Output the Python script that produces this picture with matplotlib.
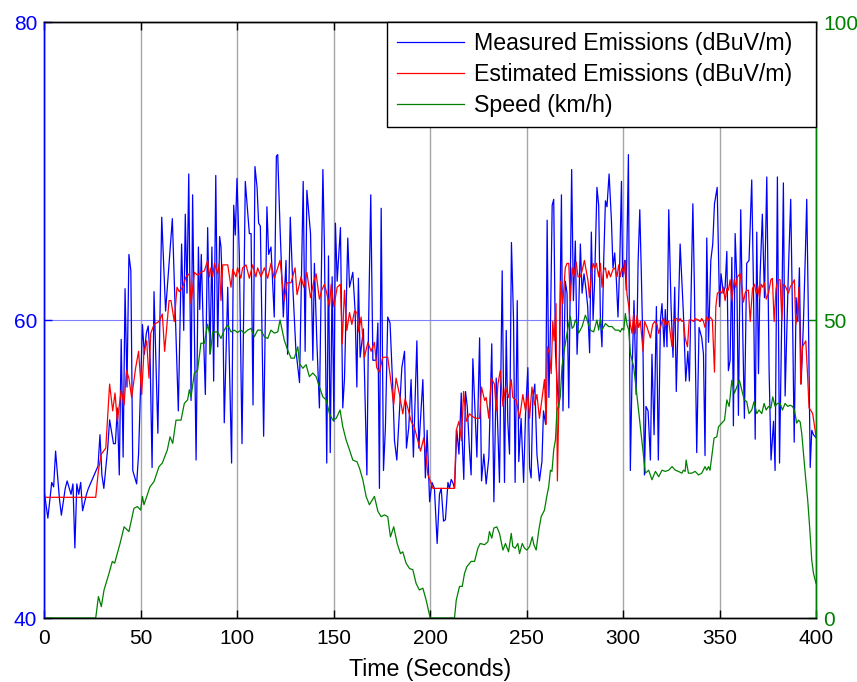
import matplotlib
matplotlib.use("Agg")
import matplotlib.pyplot as plt

plt.rcParams['font.family'] = ['Liberation Sans', 'DejaVu Sans']

# (time in s, measured emission in dBuV/m)
measured_pts = [
    (0, 48.6), (2, 46.7), (4, 49.1), (5, 48.8), (6, 51.2), (8, 48.0), (9, 46.9), (11, 48.7), (12, 49.2),
    (14, 48.3), (15, 49.0), (16, 44.7), (17, 49.0), (18, 48.3), (19, 49.1), (20, 47.2), (22, 48.3), (23, 48.7),
    (26, 49.6), (27, 49.9), (28, 50.2), (29, 52.3), (30, 49.6), (31, 48.7), (33, 51.4), (34, 53.3), (36, 51.7),
    (37, 51.7), (38, 54.1), (39, 49.6), (40, 58.7), (41, 50.8), (42, 62.1), (43, 55.5), (44, 64.4), (45, 63.3),
    (46, 49.9), (48, 49.0), (49, 51.0), (51, 59.7), (52, 57.7), (53, 59.1), (54, 59.6), (55, 57.3), (56, 50.1),
    (57, 61.9), (59, 52.4), (61, 66.9), (63, 60.6), (66.5, 66.8), (69.6, 53.9), (71.3, 65.1), (72.4, 59.3),
    (73.2, 67.1), (74.1, 61.8), (75.0, 69.8), (76.2, 54.6), (77.0, 68.4), (78.8, 50.6), (80.0, 64.9), (80.7, 60.7),
    (81.5, 64.4), (82.4, 60.0), (83.6, 55.0), (84.8, 66.2), (86.0, 57.7), (87.0, 64.9), (87.9, 55.9), (89.0, 69.7),
    (90.0, 58.2), (91.0, 65.6), (91.7, 64.9), (92.6, 61.3), (93.4, 53.1), (95.2, 62.2), (97.2, 50.4), (98.3, 67.7),
    (99.1, 65.7), (100.0, 69.5), (101.2, 64.4), (102.6, 51.7), (104.3, 69.3), (106.4, 65.8), (107.3, 65.8),
    (108.3, 54.3), (109.3, 70.3), (110.4, 68.9), (111.2, 66.5), (112.1, 66.3), (113.8, 52.2), (115.5, 67.6),
    (116.4, 64.4), (117.6, 64.9), (119.3, 60.2), (120.4, 71.0), (121.1, 71.1), (122.3, 66.2), (124.0, 60.2),
    (125.4, 64.0), (126.2, 57.7), (127.6, 66.9), (129.0, 62.0), (130.5, 58.0), (132.4, 55.8), (134.3, 69.3),
    (135.3, 57.9), (136.2, 68.7), (138.1, 65.8), (139.3, 57.3), (140.1, 63.8), (141.3, 58.8), (142.7, 54.1),
    (144.5, 70.1), (145.3, 64.9), (146.5, 50.4), (147.4, 64.3), (148.3, 51.1), (149.3, 62.9), (150.2, 53.2),
    (151.0, 66.5), (151.9, 62.6), (153.6, 66.2), (154.8, 54.1), (155.7, 56.1), (157.4, 65.5), (158.3, 62.2),
    (160.0, 63.2), (161.2, 60.6), (162.1, 55.5), (162.9, 62.8), (163.8, 57.5), (165.5, 59.4), (167.3, 49.6),
    (168.1, 59.1), (169.3, 68.4), (170.4, 57.3), (172.1, 57.3), (173.0, 59.8), (173.8, 48.7), (174.7, 67.5),
    (175.9, 49.9), (176.9, 52.8), (178.1, 60.2), (179.3, 59.8), (180.7, 55.5), (181.6, 51.9), (182.8, 50.6),
    (184.2, 53.9), (185.4, 56.8), (186.8, 57.9), (187.8, 51.4), (189.0, 52.8), (190.2, 56.0), (191.4, 50.8),
    (193.2, 58.6), (194.2, 51.4), (196.3, 56.0), (197.6, 49.4), (198.5, 52.6), (199.8, 47.8), (201.0, 49.1),
    (202.3, 48.7), (203.7, 45.0), (204.9, 48.3), (205.8, 48.7), (207.0, 46.5), (208.0, 46.6), (209.3, 49.1),
    (210.1, 48.7), (211.0, 49.3), (211.8, 49.1), (212.7, 48.7), (213.9, 52.6), (215.0, 51.0), (216.2, 55.1),
    (216.7, 51.9), (217.5, 49.3), (218.4, 55.2), (219.3, 54.2), (220.5, 51.2), (221.3, 49.6), (222.2, 57.4),
    (223.1, 54.6), (224.3, 50.8), (225.7, 58.8), (226.7, 49.2), (227.9, 51.0), (229.1, 49.0), (230.5, 50.8),
    (232.0, 58.4), (233.1, 47.8), (234.3, 56.1), (236.0, 49.1), (237.4, 63.3), (238.6, 49.1), (239.5, 59.3),
    (240.3, 53.2), (241.2, 51.0), (242.2, 65.2), (243.3, 59.9), (244.1, 49.1), (245.2, 61.3), (246.0, 50.5),
    (247.2, 53.4), (248.5, 49.1), (249.5, 53.7), (250.7, 56.8), (251.6, 50.1), (252.4, 49.4), (253.3, 54.8),
    (254.3, 55.7), (255.4, 51.0), (256.7, 49.2), (258.0, 50.5), (258.8, 53.9), (259.9, 53.0), (260.7, 66.7),
    (261.6, 54.8), (262.4, 59.5), (263.3, 67.7), (264.1, 68.1), (265.0, 57.9), (265.8, 55.9), (266.7, 54.1),
    (268.1, 68.4), (268.9, 53.9), (270.1, 62.6), (271.0, 61.8), (271.9, 54.1), (273.4, 70.1), (274.3, 61.3),
    (275.3, 65.3), (276.2, 57.7), (277.0, 60.4), (277.9, 65.1), (278.8, 61.8), (279.8, 63.1), (280.8, 62.1),
    (281.7, 60.9), (282.7, 57.8), (283.6, 65.9), (284.5, 60.0), (285.3, 62.6), (286.5, 68.9), (287.4, 67.7),
    (288.3, 60.0), (289.1, 58.2), (290.0, 64.0), (290.9, 68.0), (291.7, 67.6), (292.8, 69.8), (294.0, 66.7),
    (294.8, 63.5), (295.7, 64.5), (296.6, 62.6), (297.4, 60.2), (298.3, 63.8), (299.2, 69.3), (299.8, 62.9),
    (300.9, 64.0), (301.7, 62.0), (302.8, 71.1), (303.8, 49.9), (304.7, 56.4), (305.7, 61.3), (306.8, 55.0),
    (307.8, 63.8), (308.7, 67.4), (309.5, 63.1), (310.4, 57.7), (311.1, 49.6), (311.9, 54.2), (313.0, 53.9),
    (314.2, 50.6), (315.0, 57.7), (316.1, 52.3), (317.3, 60.9), (318.3, 50.6), (319.4, 60.0), (320.2, 61.1),
    (321.3, 58.2), (321.9, 60.7), (322.8, 58.2), (323.7, 67.4), (324.9, 60.9), (325.9, 57.5), (326.8, 62.2),
    (327.6, 55.2), (328.9, 61.8), (329.6, 65.1), (331.3, 60.4), (332.5, 55.9), (333.6, 57.9), (334.4, 55.9),
    (336.2, 67.8), (337.0, 62.2), (338.2, 51.1), (339.4, 59.5), (340.8, 58.8), (341.7, 57.7), (342.5, 50.9),
    (343.4, 65.5), (344.3, 58.5), (345.5, 64.0), (346.5, 65.1), (347.4, 67.8), (348.8, 68.9), (350.0, 60.9),
    (350.8, 63.1), (352.0, 61.8), (352.9, 62.2), (353.8, 64.6), (354.6, 56.6), (355.5, 57.3), (356.4, 64.2),
    (357.2, 52.9), (358.1, 65.8), (359.0, 62.6), (359.8, 53.6), (361.0, 67.4), (362.1, 58.8), (362.9, 53.4),
    (364.1, 63.8), (365.3, 64.0), (366.7, 69.4), (367.6, 62.2), (368.5, 52.0), (369.3, 65.9), (370.2, 56.4),
    (371.0, 62.9), (372.2, 67.1), (373.3, 61.5), (374.5, 69.6), (375.7, 56.6), (376.7, 50.6), (378.0, 53.2),
    (378.8, 49.9), (380.0, 69.6), (381.1, 50.4), (382.3, 60.5), (383.1, 69.2), (384.0, 54.9), (385.7, 63.3),
    (386.9, 68.1), (388.0, 58.8), (388.7, 51.8), (389.7, 61.5), (390.6, 59.9), (391.4, 63.5), (392.3, 55.7),
    (393.5, 59.9), (394.4, 64.0), (395.2, 68.1), (396.1, 59.9), (397.0, 50.1), (397.8, 52.6), (398.7, 52.3),
    (400.0, 52.1),
]

# (time in s, estimated emission in dBuV/m)
estimated_pts = [
    (0, 48.1), (26.8, 48.1), (28.2, 49.9), (29.7, 51.0), (32, 51.4), (34, 55.7), (35.6, 53.9), (36.8, 55.1),
    (38, 53.2), (40, 55.3), (41.5, 54.3), (42.7, 56.6), (44, 56.1), (45.4, 54.8), (47.5, 56.8), (49, 57.9),
    (50.6, 55.0), (51.8, 57.9), (53.2, 58.6), (54.4, 56.1), (55.3, 59.1), (57, 59.7), (59.6, 59.9), (61.3, 60.4),
    (62.5, 57.9), (64.8, 61.3), (65.8, 61.3), (67.5, 59.9), (68.9, 62.2), (70.1, 61.9), (71.8, 62.2), (73.6, 62.9),
    (75.3, 63.1), (76.2, 61.1), (77.9, 63.2), (79.6, 63.0), (81.3, 63.2), (83.1, 63.3), (84.8, 64.0), (85.7, 62.9),
    (86.5, 63.5), (87.4, 62.9), (88.3, 63.8), (90, 63.1), (90.8, 63.8), (91.7, 61.3), (92.6, 63.7), (95.2, 63.7),
    (96.9, 62.2), (97.8, 63.4), (99.5, 62.9), (100.3, 63.5), (102, 62.8), (102.9, 63.5), (104.7, 63.7),
    (106.4, 62.8), (108.1, 63.7), (109.8, 62.9), (110.7, 63.5), (112.4, 62.9), (114.2, 63.5), (115.9, 62.8),
    (117.6, 63.8), (119.3, 62.8), (121.1, 63.5), (122.3, 64.0), (124.5, 61.3), (125.9, 62.5), (128, 62.5),
    (130.1, 63.5), (131.1, 61.7), (133.2, 62.9), (134.6, 62.2), (136.2, 63.2), (138.1, 61.5), (139.8, 62.6),
    (141, 63.1), (142.7, 61.4), (143.9, 62.0), (145.3, 62.4), (146.5, 61.8), (147.9, 60.9), (148.8, 62.4),
    (150.2, 60.9), (151.9, 62.2), (153.6, 62.4), (154.5, 58.4), (155.7, 62.0), (156.9, 59.3), (158.3, 60.5),
    (159.5, 59.7), (160.9, 60.6), (162.2, 60.5), (163.1, 59.2), (164.3, 60.2), (166, 57.5), (167.8, 58.5),
    (169.5, 57.9), (171.2, 58.5), (172.4, 56.8), (173.8, 56.5), (175.5, 57.5), (178.1, 57.5), (179.9, 55.7),
    (181.2, 54.3), (182.4, 56.1), (184.2, 55.0), (185.9, 53.7), (187.1, 54.7), (188.5, 54.1), (190.2, 53.2),
    (191.9, 52.8), (193.7, 51.9), (195.1, 51.2), (196.8, 52.1), (198, 50.8), (198.9, 49.6), (200.1, 49.2),
    (201.5, 48.7), (212.7, 48.7), (213.6, 52.6), (215, 53.2), (216.3, 51.9), (217.4, 55.2), (218.8, 53.2),
    (220.5, 53.7), (222.2, 53.5), (223.9, 53.4), (225.7, 53.4), (226.7, 55.5), (228.3, 54.6), (229.1, 54.8),
    (230.5, 53.4), (231.7, 56.1), (233.4, 55.7), (234.3, 53.9), (235.2, 55.7), (236.4, 56.6), (237.8, 54.2),
    (239.1, 55.5), (240.7, 54.8), (242.1, 56.0), (242.9, 54.8), (244.7, 54.6), (246.4, 53.4), (248.1, 55.0),
    (249.5, 53.9), (250.7, 55.1), (251.6, 53.4), (252.8, 55.5), (254.2, 54.3), (255.4, 55.0), (256.7, 53.4),
    (258.1, 54.8), (259.3, 56.0), (260.2, 53.0), (260.9, 58.2), (261.9, 57.7), (262.8, 56.4), (263.6, 59.9),
    (264.3, 58.6), (265.3, 61.1), (266.0, 49.2), (266.7, 54.1), (267.7, 62.6), (268.8, 61.1), (270.1, 63.5),
    (271.0, 63.8), (271.9, 63.8), (272.7, 61.3), (273.6, 63.5), (274.5, 62.9), (275.7, 63.9), (276.7, 62.9),
    (277.9, 62.9), (278.8, 63.3), (280.0, 64.0), (280.8, 63.4), (281.9, 62.6), (282.6, 61.5), (283.6, 63.1),
    (284.5, 63.8), (285.3, 63.5), (286.2, 63.8), (287.4, 62.9), (288.3, 63.8), (289.1, 62.2), (290.0, 63.4),
    (290.9, 63.5), (291.7, 62.8), (292.6, 63.3), (293.5, 62.9), (294.3, 63.2), (295.2, 63.5), (296.0, 63.4),
    (296.9, 62.9), (297.8, 63.7), (298.6, 62.9), (299.5, 63.5), (300.4, 63.1), (301.2, 64.0), (302.1, 61.7),
    (303.0, 60.9), (303.8, 59.7), (304.7, 59.1), (305.5, 60.4), (306.4, 59.1), (307.3, 60.3), (308.1, 59.5),
    (309.0, 59.9), (310.4, 57.9), (311.2, 59.9), (312.5, 59.5), (314.2, 58.8), (315.4, 59.7), (316.4, 59.9),
    (317.6, 59.7), (318.5, 59.1), (319.4, 59.5), (320.2, 59.9), (321.1, 60.1), (321.9, 59.6), (322.8, 59.9),
    (323.7, 59.9), (324.5, 59.1), (325.4, 58.2), (326.3, 59.9), (327.1, 60.1), (327.9, 60.1), (328.7, 59.9),
    (329.6, 60.1), (330.5, 59.9), (331.3, 60.0), (332.2, 58.8), (333.4, 58.2), (334.3, 60.0), (335.6, 60.0),
    (336.5, 59.9), (337.4, 60.1), (339.1, 60.0), (340.0, 59.9), (340.8, 60.1), (341.7, 59.9), (342.5, 59.5),
    (343.4, 60.2), (344.3, 60.0), (345.1, 60.2), (346.3, 60.0), (347.4, 56.5), (348.1, 60.9), (348.9, 61.8),
    (350.3, 61.9), (351.2, 61.8), (352.0, 62.2), (352.9, 61.3), (353.8, 62.1), (354.6, 62.0), (355.5, 62.7),
    (356.4, 61.3), (357.6, 62.7), (358.4, 62.2), (359.3, 62.9), (360.7, 63.1), (361.5, 62.2), (362.4, 61.2),
    (363.3, 61.8), (364.1, 62.0), (365.0, 62.0), (365.9, 59.9), (367.1, 62.1), (368.1, 62.4), (369.0, 61.8),
    (369.8, 62.3), (370.7, 61.5), (371.6, 62.4), (372.4, 62.2), (373.3, 62.5), (374.2, 61.4), (375.4, 61.8),
    (376.6, 62.7), (377.4, 62.8), (378.3, 59.9), (379.3, 62.1), (380.2, 62.7), (381.4, 62.7), (382.3, 60.0),
    (383.1, 62.4), (384.0, 62.3), (385.7, 61.8), (386.6, 62.2), (388.0, 62.5), (388.8, 62.7), (389.5, 59.7),
    (390.4, 60.4), (391.2, 62.2), (392.1, 55.7), (393.0, 58.2), (393.8, 58.4), (394.7, 58.6), (395.6, 56.4),
    (396.4, 54.1), (397.5, 53.9), (398.3, 53.7), (400.0, 52.2),
]

# (time in s, vehicle speed in km/h)
speed_pts = [
    (0, 0.0), (26.8, 0.0), (28.2, 3.6), (29.7, 1.9), (31.1, 4.7), (33.7, 7.5), (35.4, 9.5), (36.6, 9.2),
    (39.4, 12.5), (41.5, 15.3), (44, 14.5), (46.6, 18.4), (48.4, 18.7), (50.1, 18.1), (51, 20.4), (51.8, 19.0),
    (54.9, 22.0), (57, 22.9), (59.6, 25.4), (61.3, 26.0), (63.9, 28.2), (65.3, 30.4), (66.7, 29.3), (68.4, 33.2),
    (71, 33.2), (72.7, 36.0), (74.4, 36.6), (75.3, 38.3), (76.2, 37.1), (77.9, 41.1), (79.6, 41.6), (81.3, 46.1),
    (83.1, 46.1), (84.8, 49.3), (85.7, 47.8), (86.2, 44.4), (87.4, 48.0), (90, 48.0), (91.7, 46.9), (93.4, 48.3),
    (95.2, 49.2), (96.9, 48.0), (98.6, 48.3), (100.3, 47.9), (102, 48.3), (103.8, 47.8), (105.5, 48.3),
    (107.3, 48.6), (109, 47.2), (110.7, 48.3), (112.4, 48.3), (114.2, 47.2), (115.9, 46.9), (117.6, 48.3),
    (119.3, 47.8), (121.1, 48.0), (122.3, 50.0), (124.5, 46.6), (126.2, 45.0), (128, 43.6), (129.7, 43.6),
    (131.5, 45.5), (132.4, 42.7), (134.1, 41.9), (135.8, 42.5), (137.5, 40.5), (139.3, 41.1), (141, 40.5),
    (142.7, 38.8), (144.5, 37.1), (146.2, 36.6), (147.9, 34.3), (149.6, 33.2), (151.4, 33.5), (153.4, 34.9),
    (154.8, 32.1), (156.5, 29.9), (158.3, 28.2), (160, 26.5), (162.2, 26.2), (163.5, 25.1), (165.2, 23.2),
    (166.9, 20.4), (168.6, 19.0), (171.2, 20.4), (173, 17.9), (174.7, 17.0), (176.4, 17.3), (178.1, 17.0),
    (179.5, 13.6), (181.2, 15.3), (183, 12.5), (184.7, 10.8), (185.9, 11.1), (187.6, 9.2), (189.4, 8.3),
    (191.1, 8.1), (192.8, 5.8), (194.5, 4.7), (196.3, 5.0), (198, 3.0), (200.1, 0.0), (212.7, 0.0), (213.6, 3.0),
    (215.3, 5.3), (216.7, 5.3), (217.9, 7.5), (219.1, 8.6), (221.3, 9.5), (223.1, 9.5), (224.8, 11.7),
    (226, 12.5), (228.3, 12.3), (230, 12.8), (230.8, 14.5), (232, 13.4), (233.1, 15.1), (234.6, 15.3),
    (236, 14.2), (236.9, 12.8), (237.8, 11.4), (239.1, 12.5), (240.7, 11.1), (242.1, 14.2), (242.9, 12.0),
    (244.1, 11.7), (245.5, 12.5), (246.4, 10.8), (247.8, 12.5), (249, 11.7), (250.2, 11.4), (251.6, 12.0),
    (253, 13.6), (253.8, 12.3), (255, 11.4), (256.4, 14.8), (257.6, 17.0), (259.3, 18.1), (260.5, 20.4),
    (261.5, 22.0), (262.4, 24.8), (263.2, 24.6), (264.1, 28.2), (265, 29.9), (265.8, 34.9), (266.7, 35.7),
    (267.5, 37.1), (268.4, 42.2), (269.3, 44.4), (271, 47.8), (271.9, 49.4), (272.7, 50.6), (273.6, 48.6),
    (274.5, 48.9), (275.3, 50.0), (276.2, 49.4), (277, 47.8), (278.8, 48.9), (280.5, 50.8), (281.4, 50.0),
    (283.1, 48.3), (284.8, 48.0), (286.5, 50.0), (287.4, 48.3), (288.3, 50.3), (289.1, 48.3), (290.9, 49.4),
    (292.6, 48.9), (294.3, 48.9), (296, 48.3), (297.8, 48.3), (298.6, 48.0), (299.5, 48.6), (300.4, 48.3),
    (301.2, 51.1), (302.1, 49.2), (303, 48.3), (303.8, 44.4), (305.5, 42.2), (307.3, 37.1), (309, 32.1),
    (310.7, 27.1), (311.6, 24.3), (313.3, 24.8), (315, 23.2), (316.8, 24.6), (318.5, 23.7), (320.2, 24.8),
    (321.9, 24.6), (323.7, 24.8), (325.4, 25.4), (327.1, 24.8), (328.7, 24.6), (330.5, 24.3), (331.3, 24.8),
    (332.2, 24.6), (332.7, 26.5), (333.9, 24.3), (335.6, 24.3), (337.4, 24.6), (339.1, 24.0), (340.8, 24.3),
    (342.5, 25.4), (343.4, 24.8), (344.3, 25.4), (345.1, 24.8), (346, 27.1), (347.2, 30.2), (348.6, 30.4),
    (349.5, 32.1), (351.2, 32.7), (352.6, 33.2), (353.8, 36.6), (355, 35.5), (356.4, 39.9), (357.7, 37.7),
    (359, 38.8), (360.3, 39.9), (361.5, 38.3), (362.8, 36.6), (364.1, 36.3), (365.3, 34.3), (366.7, 34.9),
    (367.9, 36.3), (369.3, 34.3), (370.5, 34.9), (371.9, 34.3), (373.1, 36.0), (374.2, 34.9), (375.4, 35.5),
    (376.6, 35.2), (377.6, 37.1), (378.8, 35.5), (380, 36.0), (381.4, 36.0), (382.6, 34.9), (384, 36.0),
    (385.4, 35.5), (386.6, 35.7), (387.8, 35.5), (388.8, 34.9), (390, 32.7), (390.9, 33.2), (391.8, 32.9),
    (392.6, 31.0), (393.5, 27.6), (394.7, 23.2), (395.7, 19.8), (396.8, 14.8), (397.8, 9.7), (398.7, 7.5),
    (400, 5.8),
]

x_ticks = [0, 50, 100, 150, 200, 250, 300, 350, 400]
left_ticks = [40, 60, 80]
right_ticks = [0, 50, 100]
series_labels = ['Measured Emissions (dBuV/m)', 'Estimated Emissions (dBuV/m)', 'Speed (km/h)']

BLUE = '#0000ff'
RED = '#ff0000'
GREEN = '#008000'
TICK_FS = 15
TEXT_FS = 16.7

t_meas, v_meas = zip(*measured_pts)
t_est, v_est = zip(*estimated_pts)
t_spd, v_spd = zip(*speed_pts)

fig = plt.figure(figsize=(8.57, 6.82), dpi=100)
ax = fig.add_axes([44 / 857, 64 / 682, 772 / 857, 596 / 682])
ax2 = ax.twinx()

l1, = ax.plot(t_meas, v_meas, color=BLUE, lw=0.9)
l2, = ax.plot(t_est, v_est, color=RED, lw=0.9)
l3, = ax2.plot(t_spd, v_spd, color=GREEN, lw=0.9)

ax.set_xlim(0, 400)
ax.set_ylim(40, 80)
ax2.set_ylim(0, 100)
ax.set_xticks(x_ticks)
ax.set_yticks(left_ticks)
ax2.set_yticks(right_ticks)

# grid: gray verticals, blue horizontal from the left axis
ax.xaxis.grid(True, color='#a6a6a6', lw=1.0)
ax.yaxis.grid(True, color='#8080ff', lw=0.8)
ax.set_axisbelow(True)

ax.tick_params(axis='x', direction='in', length=6, width=1, colors='black',
               labelsize=TICK_FS, pad=8, top=True)
ax.tick_params(axis='y', direction='in', length=6, width=1, colors=BLUE,
               labelcolor=BLUE, labelsize=TICK_FS, pad=5, right=False)
ax2.tick_params(axis='y', direction='in', length=6, width=1, colors=GREEN,
                labelcolor=GREEN, labelsize=TICK_FS, pad=5)

for a in (ax, ax2):
    a.spines['top'].set_color('black')
    a.spines['bottom'].set_color('black')
    a.spines['left'].set_color(BLUE)
    a.spines['right'].set_color(GREEN)
    for s in a.spines.values():
        s.set_linewidth(1.0)

ax.set_xlabel('Time (Seconds)', fontsize=TEXT_FS, labelpad=7)

# legend box spans from x = 0.444 (axes fraction) to the right spine
leg = ax2.legend([l1, l2, l3], series_labels, loc='upper right', fontsize=TEXT_FS,
                 bbox_to_anchor=(0.444, 0.0, 0.556, 1.0), mode='expand',
                 frameon=True, fancybox=False, borderaxespad=0, handlelength=2.9,
                 handletextpad=0.45, labelspacing=0.36, borderpad=0.42)
leg.get_frame().set_edgecolor('black')
leg.get_frame().set_linewidth(1.0)
leg.get_frame().set_alpha(1.0)

fig.savefig('out.png', dpi=100)
